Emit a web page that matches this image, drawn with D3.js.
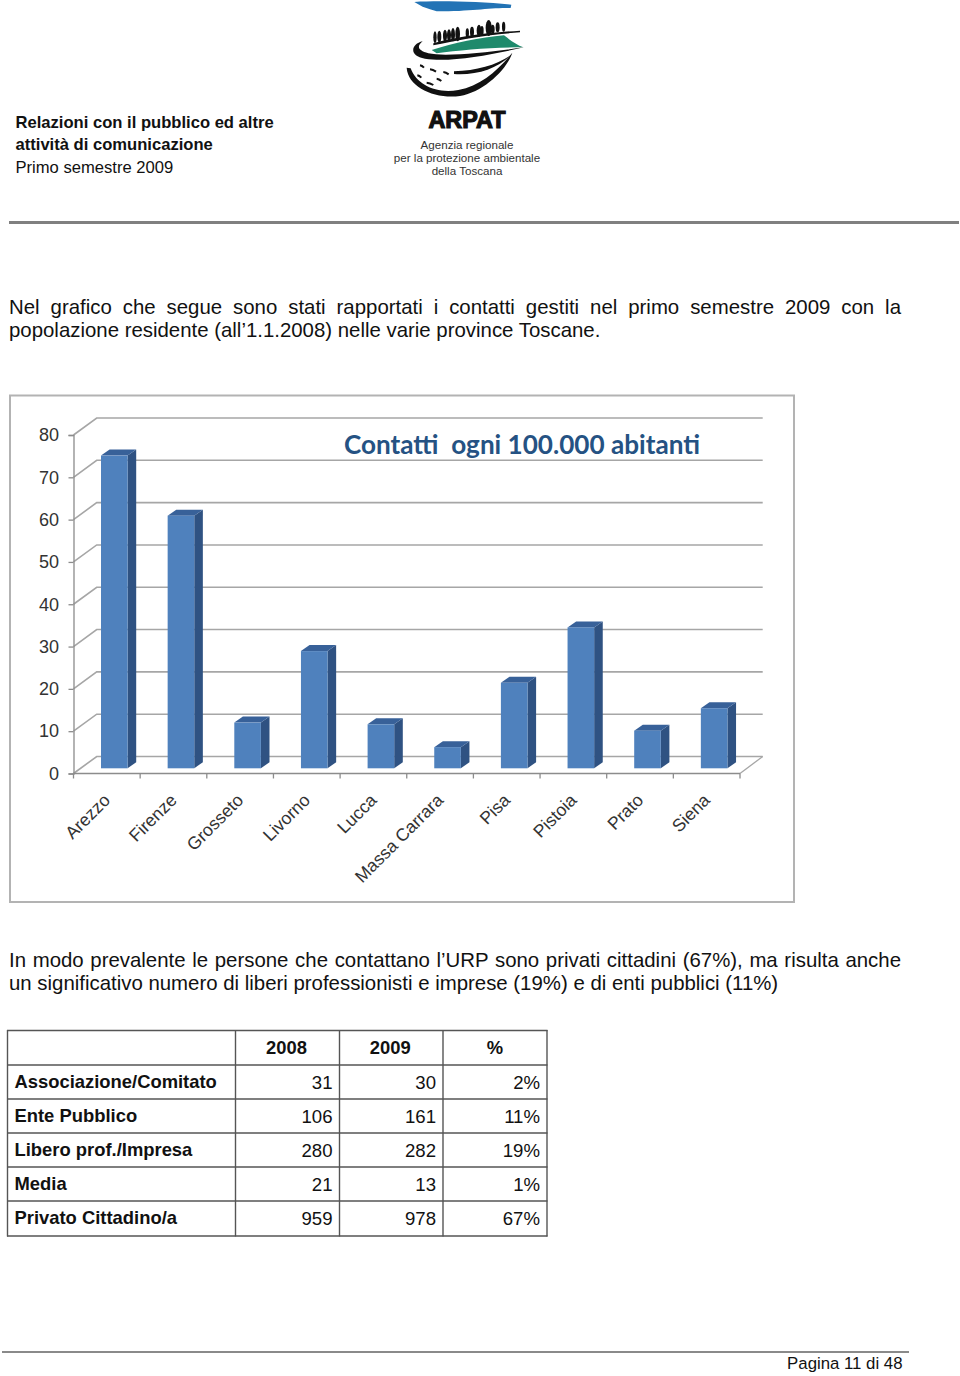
<!DOCTYPE html>
<html><head><meta charset="utf-8">
<script src="https://cdn.jsdelivr.net/npm/d3@7"></script>
<style>html,body{margin:0;padding:0;background:#fff}svg{display:block}text{font-family:"Liberation Sans",Arial,sans-serif;fill:#111}</style>
</head><body><svg id="c" width="960" height="1376"></svg>
<script>
const provinces=["Arezzo","Firenze","Grosseto","Livorno","Lucca","Massa Carrara","Pisa","Pistoia","Prato","Siena"];
const contacts=[73.9,59.7,10.8,27.7,10.4,5,20.2,33.3,8.9,14.2];
const yTicks=[0,10,20,30,40,50,60,70,80];
const tableHead=["","2008","2009","%"];
const rowNames=["Associazione/Comitato","Ente Pubblico","Libero prof./Impresa","Media","Privato Cittadino/a"];
const col2008=[31,106,280,21,959];
const col2009=[30,161,282,13,978];
const colPct=["2%","11%","19%","1%","67%"];
const headerLines=["Relazioni con il pubblico ed altre","attività di comunicazione","Primo semestre 2009"];
const para1=["Nel grafico che segue sono stati rapportati i contatti gestiti nel primo semestre 2009 con la","popolazione residente (all’1.1.2008) nelle varie province Toscane."];
const para2=["In modo prevalente le persone che contattano l’URP sono privati cittadini (67%), ma risulta anche","un significativo numero di liberi professionisti e imprese (19%) e di enti pubblici (11%)"];

const svg=d3.select("#c");
const txt=(g,s,x,y,size,o={})=>g.append("text").attr("x",x).attr("y",y).attr("font-size",size)
  .attr("font-weight",o.bold?"bold":null).attr("text-anchor",o.anchor||"start").text(s);

// Header
headerLines.forEach((s,i)=>txt(svg,s,15.5,127.5+i*22.5,16.6,{bold:i<2}));
svg.append("rect").attr("x",9).attr("y",221).attr("width",950).attr("height",3).attr("fill","#808080");

// Logo (decoration)
const logo=svg.append("g").attr("transform","translate(380,0) scale(0.3333)");
logo.append("path").attr("d","M103 6 C170 2 300 4 394 14 L392 24 C330 22 280 34 170 34 L150 28 L128 20Z").attr("fill","#2273b5");
logo.append("path").attr("d","M155 150 C220 130 300 112 372 106 C392 122 410 134 430 142 C340 142 240 150 170 160Z").attr("fill","#1f8a6c");
[[165,112,5,18],[178,110,6,18],[195,108,6,19],[207,106,6,18],[219,104,6,20],[233,102,7,22],[262,100,5,15],[276,96,6,16],[297,92,7,18],[306,92,5,14],[326,84,9,24],[338,88,6,14],[353,82,6,15],[371,80,5,15]].forEach(d=>
  logo.append("ellipse").attr("cx",d[0]).attr("cy",d[1]).attr("rx",d[2]).attr("ry",d[3]).attr("fill","#111"));
logo.append("path").attr("d","M160 130 C220 112 320 98 420 92 L420 97 C320 104 230 120 160 136Z").attr("fill","#111");
logo.append("path").attr("d","M128 124 C92 132 86 168 135 176 C210 188 330 165 432 142 C340 155 200 172 145 160 C115 152 108 140 128 124Z").attr("fill","#111");
logo.append("path").attr("d","M80 203 C84 262 165 298 240 288 C310 276 380 210 397 158 C350 215 300 258 235 270 C170 282 110 255 92 205Z").attr("fill","#111");
logo.append("path").attr("d","M222 214 C290 212 350 195 392 166 C350 207 290 226 222 222Z").attr("fill","#111");
[[120,196,12],[150,208,18],[190,216,16],[112,226,12],[140,248,20],[170,236,14]].forEach(d=>
  logo.append("path").attr("d",`M${d[0]} ${d[1]} q${d[2]/2} 1 ${d[2]} 7`).attr("fill","none").attr("stroke","#111").attr("stroke-width",6));
txt(svg,"ARPAT",467,127.5,24,{bold:true,anchor:"middle"}).attr("textLength",77).attr("lengthAdjust","spacingAndGlyphs").attr("stroke","#111").attr("stroke-width",1.2);
[["Agenzia regionale",148.5],["per la protezione ambientale",161.5],["della Toscana",175]].forEach(d=>
  txt(svg,d[0],467,d[1],11.6,{anchor:"middle"}).style("fill","#333"));

// Justified paragraphs
function para(lines,y0,target){
  lines.forEach((s,i)=>{
    const t=txt(svg,s,9,y0+i*23,20.4);
    if(i===0){
      const w=t.node().getComputedTextLength();
      t.style("word-spacing",((target-9-w)/(s.split(" ").length-1))+"px");
    }
  });
}
para(para1,314,901);
para(para2,967,901);

// Chart frame
svg.append("rect").attr("x",10).attr("y",395.5).attr("width",784).attr("height",506.5)
  .attr("fill","#fff").attr("stroke","#b3b3b3").attr("stroke-width",2);

// Scales
const x=d3.scaleBand().domain(provinces).range([73.5,740]);
const y=d3.scaleLinear().domain([0,80]).range([773.5,435]);
const depthX=23.2,depthY=-17;
const chart=svg.append("g");

// Walls and gridlines
yTicks.forEach(v=>{
  chart.append("path").attr("fill","none").attr("stroke","#a6a6a6").attr("stroke-width",1.6)
    .attr("d",d3.line()([[x.range()[0],y(v)],[x.range()[0]+depthX,y(v)+depthY],[x.range()[1]+depthX-.5,y(v)+depthY]]));
});
chart.append("line").attr("x1",x.range()[1]).attr("y1",y(0)).attr("x2",x.range()[1]+depthX-.5).attr("y2",y(0)+depthY).attr("stroke","#a6a6a6").attr("stroke-width",1.3);

// Axes
const gy=chart.append("g").attr("transform",`translate(${x.range()[0]},0)`).call(d3.axisLeft(y).tickValues(yTicks).tickSize(5).tickPadding(9.5));
gy.selectAll("text").attr("font-size",18).style("fill","#333");
gy.selectAll("line,path").attr("stroke","#8c8c8c").attr("stroke-width",1.3);
const xStep=x.step();
const gx=chart.append("g").attr("transform",`translate(0,${y(0)})`);
gx.append("line").attr("x1",x.range()[0]).attr("x2",x.range()[1]).attr("stroke","#8c8c8c").attr("stroke-width",1.3);
d3.range(provinces.length+1).forEach(i=>gx.append("line").attr("x1",x.range()[0]+i*xStep).attr("x2",x.range()[0]+i*xStep).attr("y1",0).attr("y2",5).attr("stroke","#8c8c8c").attr("stroke-width",1.3));

// Bars
const barW=26.6,dx=8.6,dy=-6,baseShift=-5.2,inset=27.5;
provinces.forEach((p,i)=>{
  const x0=x(p)+inset, x1=x0+barW, top=y(contacts[i])+baseShift, bot=y(0)+baseShift;
  const g=chart.append("g");
  g.append("path").attr("fill","#2f5282").attr("d",d3.line()([[x1,top],[x1+dx,top+dy],[x1+dx,bot+dy],[x1,bot]])+"Z");
  g.append("path").attr("fill","#386199").attr("d",d3.line()([[x0,top],[x0+dx,top+dy],[x1+dx,top+dy],[x1,top]])+"Z");
  g.append("rect").attr("x",x0).attr("y",top).attr("width",barW).attr("height",bot-top).attr("fill","#4f81bd");
  const lx=x(p)+xStep/2, ly=797;
  chart.append("text").attr("transform",`translate(${lx},${ly}) rotate(-45)`).attr("text-anchor","end")
    .attr("font-size",17.6).style("fill","#333").attr("dy","0.35em").text(p);
});

// Chart title
chart.append("text").attr("x",344).attr("y",454).attr("font-size",27).attr("font-weight","bold")
  .attr("textLength",356).attr("lengthAdjust","spacingAndGlyphs").style("font-family","Lato,sans-serif").style("fill","#255283").style("white-space","pre").text("Contatti  ogni 100.000 abitanti");

// Table
const tx=[7.5,235.5,339.5,443,547], ty=[1030.5,1065,1099,1133,1167,1201,1236];
const tg=svg.append("g");
tx.forEach(v=>tg.append("line").attr("x1",v).attr("x2",v).attr("y1",ty[0]-.5).attr("y2",ty[6]+.5).attr("stroke","#555").attr("stroke-width",1.4));
ty.forEach(v=>tg.append("line").attr("x1",tx[0]-.5).attr("x2",tx[4]+.5).attr("y1",v).attr("y2",v).attr("stroke","#555").attr("stroke-width",1.4));
tableHead.forEach((s,i)=>{ if(i) txt(tg,s,(tx[i]+tx[i+1])/2-(i===3?0:1),1054,18.4,{bold:true,anchor:"middle"}); });
rowNames.forEach((s,r)=>{
  const b=ty[r+1]+23;
  txt(tg,s,14.5,b,18.4,{bold:true});
  txt(tg,col2008[r],332.5,b+.5,18.6,{anchor:"end"});
  txt(tg,col2009[r],436,b+.5,18.6,{anchor:"end"});
  txt(tg,colPct[r],540,b+.5,18.6,{anchor:"end"});
});

// Footer
svg.append("rect").attr("x",2).attr("y",1351).attr("width",907).attr("height",2).attr("fill","#8a8a8a");
txt(svg,"Pagina 11 di 48",902.5,1368.5,16.8,{anchor:"end"});
</script></body></html>
